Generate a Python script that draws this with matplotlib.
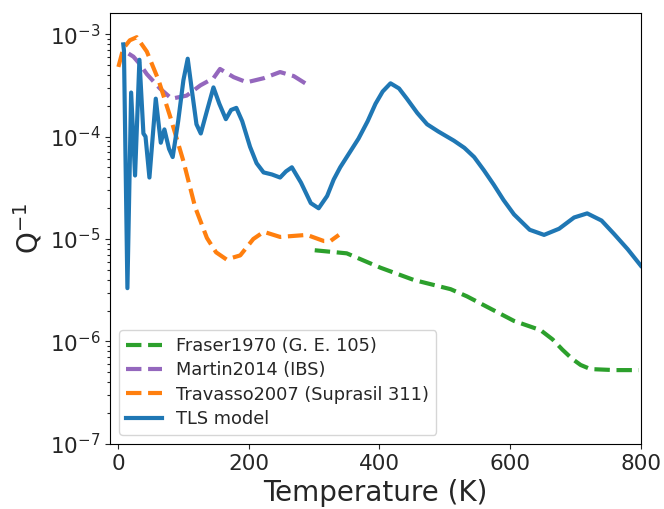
import numpy as np
import matplotlib
matplotlib.use("Agg")
import matplotlib.pyplot as plt
from matplotlib.ticker import LogLocator, NullFormatter

# TLS model (temperature K, log10 Q^-1)
tls_T = [8, 9, 14.3, 20, 26, 32.7, 38.8, 42, 48, 57.7, 65.4, 70.9, 78, 83.6, 92, 100, 106.6,
         113, 120, 126.6, 136, 146, 155, 165, 173, 181, 190, 202, 212, 222.7, 235.5, 248,
         257, 266, 280, 295, 307, 320, 330, 340, 355, 368, 382, 394, 405, 417, 430, 442,
         458, 473, 490, 514, 530, 545, 560, 575, 590, 606, 630, 652, 675, 698, 718, 740,
         759, 780, 800]
tls_logQ = [-3.1, -3.16, -5.48, -3.57, -4.38, -3.25, -3.97, -4.0, -4.40, -3.63, -4.06, -3.93,
            -4.12, -4.20, -3.85, -3.45, -3.24, -3.55, -3.88, -3.97, -3.75, -3.52, -3.68, -3.83,
            -3.74, -3.72, -3.85, -4.10, -4.26, -4.35, -4.37, -4.40, -4.34, -4.30, -4.45, -4.65,
            -4.70, -4.58, -4.42, -4.30, -4.15, -4.02, -3.85, -3.68, -3.56, -3.48, -3.53, -3.63,
            -3.77, -3.88, -3.95, -4.04, -4.11, -4.20, -4.33, -4.47, -4.62, -4.76, -4.91, -4.96,
            -4.90, -4.79, -4.75, -4.82, -4.95, -5.10, -5.26]

# Fraser1970 (G. E. 105)
fraser_T = [301, 350, 401.5, 452.6, 509, 534, 570, 606, 646.7, 665, 680, 695, 708, 723,
            760, 797]
fraser_logQ = [-5.11, -5.14, -5.28, -5.40, -5.49, -5.56, -5.68, -5.80, -5.89, -5.98, -6.08,
               -6.17, -6.23, -6.27, -6.28, -6.28]

# Martin2014 (IBS)
martin_T = [16, 23.5, 33, 44, 64, 82, 105, 126, 146, 156, 177, 197, 223, 248, 269, 294]
martin_logQ = [-3.19, -3.22, -3.29, -3.39, -3.53, -3.63, -3.60, -3.50, -3.43, -3.34, -3.42,
               -3.47, -3.43, -3.37, -3.41, -3.51]

# Travasso2007 (Suprasil 311)
trav_T = [0.5, 8, 18, 28.6, 44, 62, 80, 100, 118, 136, 150, 166, 187, 207, 223, 248, 289,
          315, 325, 338]
trav_logQ = [-3.32, -3.14, -3.06, -3.03, -3.17, -3.45, -3.81, -4.24, -4.69, -4.99, -5.13,
             -5.20, -5.16, -5.00, -4.93, -4.98, -4.96, -5.02, -5.02, -4.96]

plt.rcParams["font.family"] = "DejaVu Sans"
plt.rcParams["text.color"] = "#262626"
plt.rcParams["xtick.color"] = "#262626"
plt.rcParams["ytick.color"] = "#262626"
plt.rcParams["axes.labelcolor"] = "#262626"

fig = plt.figure(figsize=(6.64, 5.09), dpi=100)
ax = fig.add_axes([0.166, 0.128, 0.799, 0.846])

ax.plot(fraser_T, 10 ** np.array(fraser_logQ), "--", color="C2", lw=3,
        label="Fraser1970 (G. E. 105)")
ax.plot(martin_T, 10 ** np.array(martin_logQ), "--", color="C4", lw=3,
        label="Martin2014 (IBS)")
ax.plot(trav_T, 10 ** np.array(trav_logQ), "--", color="C1", lw=3,
        label="Travasso2007 (Suprasil 311)")
ax.plot(tls_T, 10 ** np.array(tls_logQ), "-", color="C0", lw=3, label="TLS model")

ax.set_yscale("log")
ax.set_xlim(-12, 800)
ax.set_ylim(1e-7, 1.6e-3)
ax.set_xticks([0, 200, 400, 600, 800])
ax.yaxis.set_major_locator(LogLocator(base=10, numticks=20))
ax.yaxis.set_minor_locator(LogLocator(base=10, subs=np.arange(2, 10), numticks=100))
ax.yaxis.set_minor_formatter(NullFormatter())
ax.tick_params(labelsize=15.5, direction="out")
ax.tick_params(axis="y", which="minor", length=2.5, width=0.8, left=True)
ax.set_xlabel("Temperature (K)", fontsize=20)
ax.set_ylabel("Q$^{-1}$", fontsize=20)
ax.legend(loc="lower left", fontsize=12.8, labelspacing=0.35)

fig.savefig("out.png", dpi=100)
